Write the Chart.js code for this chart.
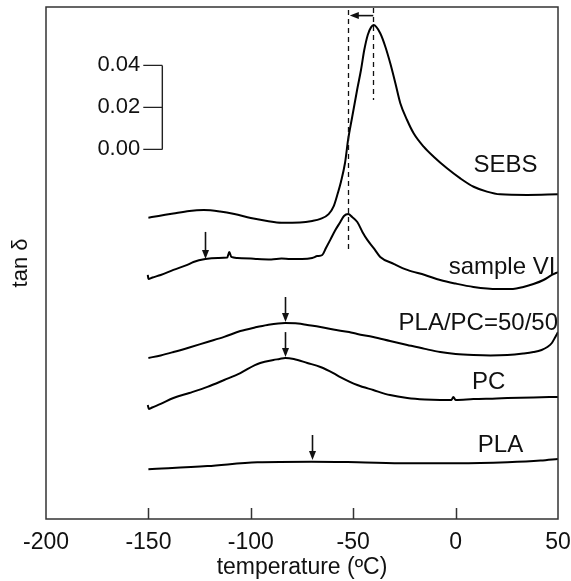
<!DOCTYPE html>
<html><head><meta charset="utf-8">
<script src="https://cdn.jsdelivr.net/npm/chart.js@4/dist/chart.umd.min.js"></script>
<style>html,body{margin:0;padding:0;background:#fff}#wrap{width:571px;height:581px}</style>
</head><body><div id="wrap"><canvas id="c" width="571" height="581"></canvas></div>
<script>
// ---- data (temperature in °C, tan δ shifted vertically for display) ----
const xTicks = [-200, -150, -100, -50, 0, 50];
const seriesNames = ['SEBS', 'sample VI', 'PLA/PC=50/50', 'PC', 'PLA'];

const sebsT = [-150,-145,-137.8,-130,-123,-115,-108,-100,-92,-85,-76,-70,-66,-62,-59.5,-57.5,-56,-54,-52.5,-50.5,-48.1,-46.2,-44.6,-42.9,-41.3,-40,-36.8,-34.3,-31.9,-29.4,-27,-23.7,-20.5,-15.6,-10.7,-4.2,2.3,8.8,15.3,21.8,34.9,50];
const sebsV = [0.1435,0.1443,0.1455,0.1467,0.1471,0.1464,0.1452,0.1433,0.1419,0.1411,0.1412,0.1419,0.1429,0.1452,0.1490,0.1552,0.1605,0.1695,0.1805,0.1914,0.2043,0.2138,0.2233,0.2305,0.2341,0.2352,0.2313,0.2249,0.2170,0.2075,0.1980,0.1900,0.1837,0.1773,0.1725,0.1670,0.1622,0.1582,0.1559,0.1546,0.1543,0.1546];

const sampleT = [-150.3,-150,-148,-144,-137.8,-131,-128,-122.2,-116,-111.5,-110.5,-109.5,-106.6,-100,-96.8,-90,-85,-80.7,-75,-70,-67.5,-65.1,-63.3,-61.2,-58.7,-56.3,-54.5,-52.4,-50.5,-48,-45.5,-43.1,-40,-36.8,-30,-23.6,-15,-7.5,0,8.7,20.4,28,33.1,38,42.9,47,50];
const sampleV = [0.1162,0.1143,0.1150,0.1162,0.1186,0.1210,0.1224,0.1238,0.1243,0.1245,0.1271,0.1248,0.1243,0.1240,0.1238,0.1236,0.1240,0.1238,0.1238,0.1243,0.1252,0.1257,0.1290,0.1329,0.1376,0.1414,0.1443,0.1452,0.1438,0.1414,0.1367,0.1329,0.1290,0.1248,0.1214,0.1186,0.1162,0.1138,0.1121,0.1105,0.1095,0.1095,0.1105,0.1119,0.1138,0.1162,0.1176];

const blendT = [-150,-144,-137.8,-130,-121.2,-113,-105.1,-98,-91.9,-83.2,-77,-72.4,-66,-59.7,-52,-48,-40.2,-32,-23.6,-15,-7.5,0,8.7,17,25.3,33,38,42,44.8,47,48.7,50];
const blendV = [0.0767,0.0779,0.0795,0.0817,0.0843,0.0867,0.0895,0.0912,0.0924,0.0933,0.0931,0.0924,0.0914,0.0902,0.0890,0.0881,0.0867,0.0848,0.0829,0.0810,0.0795,0.0786,0.0781,0.0779,0.0781,0.0788,0.0795,0.0805,0.0819,0.0838,0.0867,0.0890];

const pcT = [-150.3,-149.8,-148.2,-144,-137.8,-130,-121.2,-113,-105.1,-98,-95.4,-89,-86,-83.2,-79,-72.4,-66,-59.7,-56.3,-48,-40.2,-32,-23.6,-15,-7.5,-2,-1.1,0,8.7,20,25.3,38,50];
const pcV = [0.0543,0.0524,0.0531,0.0548,0.0576,0.0600,0.0629,0.0662,0.0695,0.0733,0.0743,0.0757,0.0762,0.0767,0.0762,0.0743,0.0724,0.0695,0.0676,0.0638,0.0614,0.0590,0.0576,0.0569,0.0567,0.0567,0.0581,0.0567,0.0571,0.0574,0.0576,0.0579,0.0581];

const plaT = [-150,-121.2,-96.8,-70.6,-48,-23.6,1,25.3,41.5,50];
const plaV = [0.0237,0.0252,0.0270,0.0273,0.0270,0.0265,0.0265,0.0270,0.0278,0.0286];

// curve labels (anchor: right edge temperature, centre value)
const labelT = [40, 48.7, 50, 24.3, 33];
const labelV = [0.1686, 0.1200, 0.0933, 0.0652, 0.0352];

// downward arrows marking transitions
const arrowT = [-122.2, -83.2, -83.2, -70.0];
const arrowTop = [0.1367, 0.1057, 0.0890, 0.0400];
const arrowTip = [0.1238, 0.0938, 0.0771, 0.0281];

// dashed peak markers (sample VI peak, SEBS peak)
const dashT = [-52.4, -40.2];
const dashTop = [0.2424, 0.2433];
const dashBottom = [0.1267, 0.1995];
const shiftArrowV = 0.2397;

// inset tan δ scale bar
const scaleBarLabels = ['0.00', '0.02', '0.04'];
const scaleBarSteps = [0, 0.02, 0.04];
const scaleBarBase = 0.176;
const scaleBarT = -143.2;
const scaleBarTickT = -152.5;
const scaleBarTextT = -154.0;

const yMin = 0, yMax = 0.2438;

const FONT = '"Liberation Sans", Arial, Helvetica, sans-serif';
const toPts = (T, V) => T.map((t, i) => ({x: t, y: V[i]}));
const seriesT = [sebsT, sampleT, blendT, pcT, plaT];
const seriesV = [sebsV, sampleV, blendV, pcV, plaV];

const annot = {
  id: 'annot',
  afterDatasetsDraw(chart) {
    const {ctx, chartArea: a, scales: {x, y}} = chart;
    const X = v => x.getPixelForValue(v), Y = v => y.getPixelForValue(v);
    ctx.save();
    ctx.strokeStyle = '#333'; ctx.lineWidth = 1.5;
    ctx.strokeRect(a.left, a.top, a.right - a.left, a.bottom - a.top);
    // inward ticks on x axis
    ctx.beginPath();
    x.ticks.forEach(t => {
      if (t.value > x.min && t.value < x.max) {
        const px = Math.round(X(t.value)) + 0.5;
        ctx.moveTo(px, a.bottom); ctx.lineTo(px, a.bottom - 11);
      }
    });
    ctx.stroke();
    // scale bar
    ctx.strokeStyle = '#222'; ctx.lineWidth = 1.4;
    ctx.beginPath();
    ctx.moveTo(X(scaleBarT), Y(scaleBarBase + scaleBarSteps[0]));
    ctx.lineTo(X(scaleBarT), Y(scaleBarBase + scaleBarSteps[scaleBarSteps.length - 1]));
    scaleBarSteps.forEach(s => { ctx.moveTo(X(scaleBarTickT), Y(scaleBarBase + s)); ctx.lineTo(X(scaleBarT), Y(scaleBarBase + s)); });
    ctx.stroke();
    ctx.fillStyle = '#111';
    ctx.font = '22px ' + FONT; ctx.textAlign = 'right'; ctx.textBaseline = 'middle';
    scaleBarSteps.forEach((s, i) => ctx.fillText(scaleBarLabels[i], X(scaleBarTextT), Y(scaleBarBase + s)));
    // dashed lines
    ctx.setLineDash([5, 4]); ctx.lineWidth = 1.3; ctx.strokeStyle = '#111';
    ctx.beginPath();
    dashT.forEach((t, i) => { ctx.moveTo(Math.round(X(t)) + 0.5, Y(dashTop[i])); ctx.lineTo(Math.round(X(t)) + 0.5, Y(dashBottom[i])); });
    ctx.stroke();
    ctx.setLineDash([]);
    // horizontal shift arrow
    const hy = Y(shiftArrowV), hx1 = X(dashT[1]), hx0 = X(dashT[0]) + 1.5;
    ctx.lineWidth = 1.6;
    ctx.beginPath(); ctx.moveTo(hx1, hy); ctx.lineTo(hx0 + 7, hy); ctx.stroke();
    ctx.beginPath(); ctx.moveTo(hx0, hy); ctx.lineTo(hx0 + 9, hy - 3.5); ctx.lineTo(hx0 + 9, hy + 3.5); ctx.closePath(); ctx.fill();
    // downward arrows
    arrowT.forEach((t, i) => {
      const px = Math.round(X(t)) + 0.5, y0 = Y(arrowTop[i]), y1 = Y(arrowTip[i]);
      ctx.beginPath(); ctx.moveTo(px, y0); ctx.lineTo(px, y1 - 7); ctx.stroke();
      ctx.beginPath(); ctx.moveTo(px, y1); ctx.lineTo(px - 3.5, y1 - 9); ctx.lineTo(px + 3.5, y1 - 9); ctx.closePath(); ctx.fill();
    });
    // curve labels
    ctx.font = '24px ' + FONT; ctx.textAlign = 'right'; ctx.textBaseline = 'middle';
    seriesNames.forEach((n, i) => ctx.fillText(n, X(labelT[i]), Y(labelV[i])));
    ctx.restore();
  }
};

new Chart(document.getElementById('c'), {
  type: 'line',
  data: {
    datasets: seriesNames.map((n, i) => ({
      label: n,
      data: toPts(seriesT[i], seriesV[i]),
      borderColor: '#000', borderWidth: 2, pointRadius: 0,
      cubicInterpolationMode: 'monotone', fill: false
    }))
  },
  options: {
    responsive: false, animation: false, devicePixelRatio: 1,
    layout: {padding: {top: 7, right: 13, left: 0, bottom: 0}},
    plugins: {legend: {display: false}, tooltip: {enabled: false}},
    scales: {
      x: {
        type: 'linear', min: xTicks[0], max: xTicks[xTicks.length - 1],
        afterBuildTicks: s => { s.ticks = xTicks.map(v => ({value: v})); },
        ticks: {font: {size: 23, family: FONT}, color: '#111', maxRotation: 0, autoSkip: false, padding: 2},
        grid: {display: false}, border: {display: false},
        title: {display: true, text: 'temperature (ºC)', font: {size: 23, family: FONT}, color: '#111', padding: {top: 0, bottom: 0}},
        afterFit: s => { s.height = 62; s.paddingLeft = 0; s.paddingRight = 0; }
      },
      y: {
        type: 'linear', min: yMin, max: yMax,
        ticks: {display: false}, grid: {display: false}, border: {display: false},
        title: {display: true, text: 'tan δ', font: {size: 22, family: FONT}, color: '#111', padding: {top: 8, bottom: 0}},
        afterFit: s => { s.width = 46; s.paddingTop = 0; s.paddingBottom = 0; }
      }
    }
  },
  plugins: [annot]
});
</script>
</body></html>
